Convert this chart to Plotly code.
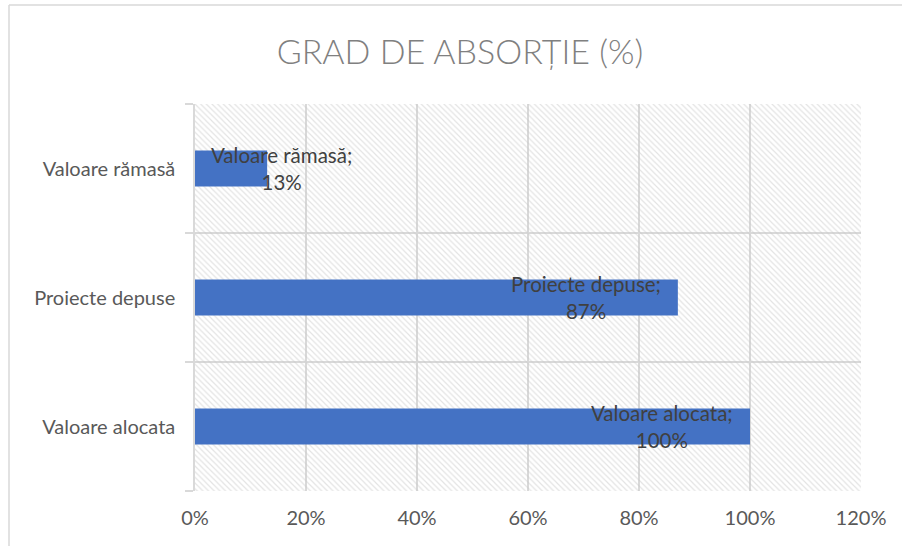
import plotly.graph_objects as go

categories = ["Valoare alocata", "Proiecte depuse", "Valoare rămasă"]
values = [1.00, 0.87, 0.13]
label_names = ["Valoare alocata", "Proiecte depuse", "Valoare rămasă"]
x_ticks = [0, 0.2, 0.4, 0.6, 0.8, 1.0, 1.2]
x_tick_labels = ["0%", "20%", "40%", "60%", "80%", "100%", "120%"]
title_text = "GRAD DE ABSORȚIE (%)"

FONT = "Lato, 'Open Sans', sans-serif"
W, H = 902, 546
ML, MR, MT, MB = 195, 41, 104, 55
x_max = x_ticks[-1]

fig = go.Figure()

# hatched plot background (Excel pattern fill), one full-width band per category
fig.add_trace(go.Bar(
    x=[x_max] * len(categories), y=categories, base=0, width=1, orientation="h",
    marker=dict(color="rgba(0,0,0,0)", line=dict(width=0),
                pattern=dict(shape="\\", fgcolor="#c8c8c8", bgcolor="rgba(0,0,0,0)",
                             size=4, solidity=0.3)),
    hoverinfo="skip", showlegend=False,
))

fig.add_trace(go.Bar(
    x=values, y=categories, orientation="h",
    marker=dict(color="#4472C4", line=dict(width=0)),
    width=0.28, showlegend=False, hoverinfo="skip",
))

LBL = dict(family=FONT, size=20.5, color="#404040")
annotations = []
for cat, v, name in zip(categories, values, label_names):
    txt = f"{name};<br>{round(v*100):.0f}%"
    if v < 0.3:
        annotations.append(dict(x=0, y=cat, xref="x", yref="y", text=txt,
                                showarrow=False, xanchor="left", xshift=14,
                                align="center", font=LBL))
    else:
        annotations.append(dict(x=v, y=cat, xref="x", yref="y", text=txt,
                                showarrow=False, xanchor="right", xshift=-15,
                                align="center", font=LBL))

pw = W - ML - MR
ph = H - MT - MB
# outer chart border (top and left edges)
bx = (9 - ML) / pw
by = 1 + (MT - 5) / ph
shapes = [
    dict(type="line", xref="paper", yref="paper", x0=bx, x1=bx + 2, y0=by, y1=by,
         line=dict(color="#d9d9d9", width=1.5)),
    dict(type="line", xref="paper", yref="paper", x0=bx, x1=bx, y0=by, y1=-1,
         line=dict(color="#d9d9d9", width=1.5)),
]

fig.update_layout(
    width=W, height=H,
    margin=dict(l=ML, r=MR, t=MT, b=MB),
    paper_bgcolor="white", plot_bgcolor="white",
    title=dict(text=title_text, x=0.51, xanchor="center", y=0.905, yanchor="middle",
               font=dict(family=FONT, size=34, color="#808080", weight=300)),
    barmode="overlay",
    xaxis=dict(range=[0, x_max], tickvals=x_ticks, ticktext=x_tick_labels,
               showgrid=True, gridcolor="#d9d9d9", gridwidth=1.5,
               zeroline=False, showline=False, ticks="",
               tickfont=dict(family=FONT, size=20, color="#595959"),
               ticklabelstandoff=13, fixedrange=True),
    yaxis=dict(type="category", categoryorder="array", categoryarray=categories,
               showgrid=True, gridcolor="#d9d9d9", gridwidth=1.5,
               tickson="boundaries", ticks="outside", ticklen=8, tickwidth=1.5,
               tickcolor="#d9d9d9", showline=True, linecolor="#d9d9d9", linewidth=1.5,
               tickfont=dict(family=FONT, size=20, color="#595959"),
               ticklabelstandoff=14, range=[-0.5, 2.5], fixedrange=True),
    annotations=annotations,
    shapes=shapes,
)

fig.write_html("out.html", post_script="document.body.style.margin='0';",
               config={"displayModeBar": False})
